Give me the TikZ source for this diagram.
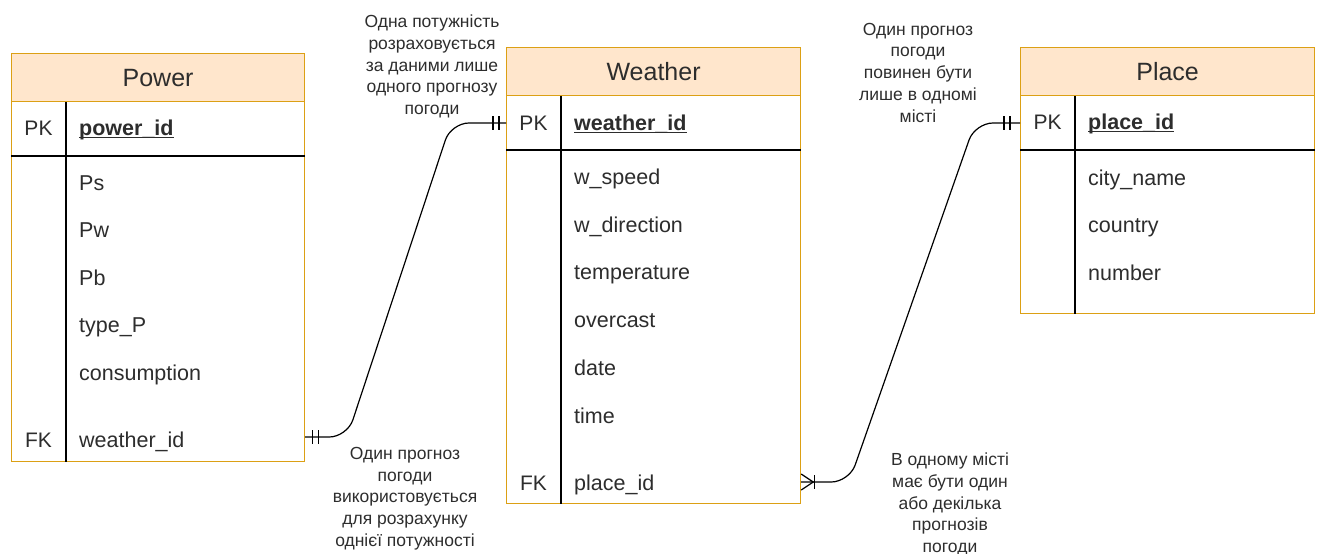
\documentclass[tikz,border=0pt]{standalone}
\usepackage{fontspec}
\setmainfont{Liberation Sans}
\definecolor{headFill}{RGB}{255,230,204}
\definecolor{tableLine}{RGB}{220,160,20}
\definecolor{textGray}{RGB}{45,45,45}
\newcommand{\keyName}[1]{\setbox0\hbox{\bfseries #1}\rlap{\rule[-2.5pt]{\wd0}{1.1pt}}\box0}

\begin{document}
\begin{tikzpicture}[x = 1pt, y = -1pt]
	\tikzstyle{tableStyle} = [draw = tableLine, line width = 1.2pt, fill = white, anchor = north west, inner sep = 0pt]
	\tikzstyle{headStyle} = [draw = tableLine, line width = 1.2pt, fill = headFill, anchor = north, minimum height = 48pt, inner sep = 0pt, text = textGray, font = \fontsize{25}{30}\selectfont]
	\tikzstyle{keyStyle} = [anchor = mid, inner sep = 0pt, text = textGray, font = \fontsize{21}{25}\selectfont]
	\tikzstyle{fieldStyle} = [anchor = mid west, inner sep = 0pt, text = textGray, font = \fontsize{21.5}{25}\selectfont]
	\tikzstyle{noteStyle} = [align = center, inner sep = 0pt, text = textGray, font = \fontsize{17.5}{21.75}\selectfont]
	\tikzstyle{ruleStyle} = [line width = 1.2pt]
	\tikzstyle{relStyle} = [line width = 1.2pt, rounded corners = 18pt]
	\useasboundingbox (0, 0) rectangle (1317, 554);
	% tables
	\node[tableStyle, minimum width = 293pt, minimum height = 408pt] (power) at (11, 53) {};
	\node[headStyle, minimum width = 293pt] (powerHead) at (power.north) {Power};
	\node[tableStyle, minimum width = 294pt, minimum height = 456pt] (weather) at (506, 47) {};
	\node[headStyle, minimum width = 294pt] (weatherHead) at (weather.north) {Weather};
	\node[tableStyle, minimum width = 294pt, minimum height = 266pt] (place) at (1020, 47) {};
	\node[headStyle, minimum width = 294pt] (placeHead) at (place.north) {Place};
	\draw[ruleStyle] ([yshift = -103pt]power.north west) -- ([yshift = -103pt]power.north east);
	\draw[ruleStyle] ([xshift = 55pt]powerHead.south west) -- ([xshift = 55pt]power.south west);
	\draw[ruleStyle] ([yshift = -103pt]weather.north west) -- ([yshift = -103pt]weather.north east);
	\draw[ruleStyle] ([xshift = 55pt]weatherHead.south west) -- ([xshift = 55pt]weather.south west);
	\draw[ruleStyle] ([yshift = -103pt]place.north west) -- ([yshift = -103pt]place.north east);
	\draw[ruleStyle] ([xshift = 55pt]placeHead.south west) -- ([xshift = 55pt]place.south west);
	% Power fields
	\node[keyStyle] (pPKkey) at (38.5, 133) {PK};
	\node[fieldStyle] (pPK) at (79, 133) {\keyName{power\_id}};
	\node[fieldStyle] (pPs) at (79, 188) {Ps};
	\node[fieldStyle] (pPw) at (79, 235) {Pw};
	\node[fieldStyle] (pPb) at (79, 283) {Pb};
	\node[fieldStyle] (pType) at (79, 330) {type\_P};
	\node[fieldStyle] (pCons) at (79, 378) {consumption};
	\node[keyStyle] (pFKkey) at (38.5, 445) {FK};
	\node[fieldStyle] (pFK) at (79, 445) {weather\_id};
	% Weather fields
	\node[keyStyle] (wPKkey) at (533.5, 128) {PK};
	\node[fieldStyle] (wPK) at (574, 128) {\keyName{weather\_id}};
	\node[fieldStyle] (wSpeed) at (574, 182) {w\_speed};
	\node[fieldStyle] (wDir) at (574, 230) {w\_direction};
	\node[fieldStyle] (wTemp) at (574, 277) {temperature};
	\node[fieldStyle] (wCloud) at (574, 325) {overcast};
	\node[fieldStyle] (wDate) at (574, 373) {date};
	\node[fieldStyle] (wTime) at (574, 421) {time};
	\node[keyStyle] (wFKkey) at (533.5, 488) {FK};
	\node[fieldStyle] (wFK) at (574, 488) {place\_id};
	% Place fields
	\node[keyStyle] (lPKkey) at (1047.5, 127) {PK};
	\node[fieldStyle] (lPK) at (1088, 127) {\keyName{place\_id}};
	\node[fieldStyle] (lCity) at (1088, 183) {city\_name};
	\node[fieldStyle] (lCountry) at (1088, 230) {country};
	\node[fieldStyle] (lNumber) at (1088, 278) {number};
	% notes
	\node[noteStyle] (noteA) at (432, 66.5) {Одна потужність\\розраховується\\за даними лише\\одного прогнозу\\погоди};
	\node[noteStyle] (noteB) at (405, 498.5) {Один прогноз\\погоди\\використовується\\для розрахунку\\однієї потужності};
	\node[noteStyle] (noteC) at (918, 72.5) {Один прогноз\\погоди\\повинен бути\\лише в одномі\\місті};
	\node[noteStyle] (noteD) at (950, 504.5) {В одному місті\\має бути один\\або декілька\\прогнозів\\погоди};
	% relations
	\coordinate (pFKout) at ([yshift = 8pt]power.east |- pFK.mid);
	\coordinate (wPKin) at ([yshift = 5pt]weather.west |- wPK.mid);
	\coordinate (wFKout) at ([yshift = 6pt]weather.east |- wFK.mid);
	\coordinate (lPKin) at ([yshift = 4pt]place.west |- lPK.mid);
	\draw[relStyle] (pFKout) -- ++(42, 0) -- ([xshift = -55pt]wPKin) -- (wPKin);
	\draw[relStyle] (wFKout) -- ++(48, 0) -- ([xshift = -45pt]lPKin) -- (lPKin);
	\draw[ruleStyle] ([xshift = 7pt]pFKout) ++(0, -7) -- ++(0, 14);
	\draw[ruleStyle] ([xshift = 13pt]pFKout) ++(0, -7) -- ++(0, 14);
	\draw[ruleStyle] ([xshift = -7pt]wPKin) ++(0, -7) -- ++(0, 14);
	\draw[ruleStyle] ([xshift = -13pt]wPKin) ++(0, -7) -- ++(0, 14);
	\draw[ruleStyle] ([xshift = -10pt]lPKin) ++(0, -7) -- ++(0, 14);
	\draw[ruleStyle] ([xshift = -16pt]lPKin) ++(0, -7) -- ++(0, 14);
	\draw[ruleStyle] ([yshift = 8pt]wFKout) -- ([xshift = 12pt]wFKout) -- ([yshift = -8pt]wFKout);
	\draw[ruleStyle] ([xshift = 13pt]wFKout) ++(0, -7) -- ++(0, 14);
\end{tikzpicture}
\end{document}
